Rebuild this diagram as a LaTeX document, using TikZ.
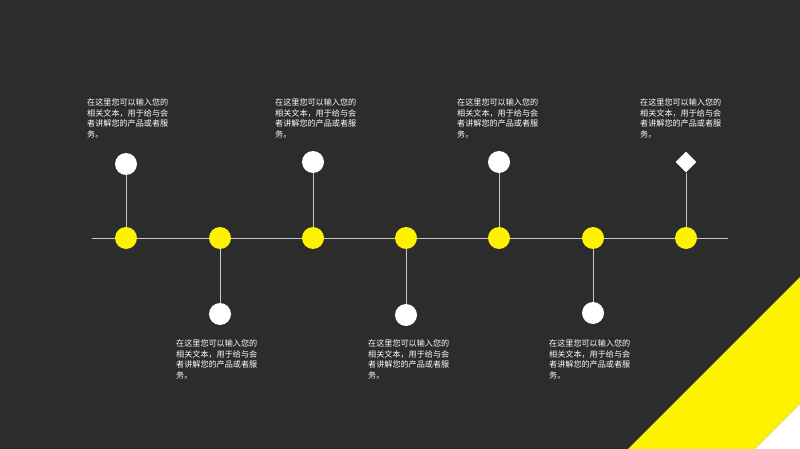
\documentclass[tikz,border=0pt]{standalone}
\usepackage{fontspec}
\newfontfamily\cjk{Noto Sans CJK SC}
\usetikzlibrary{shapes.geometric}
\definecolor{bgdark}{RGB}{44,44,44}
\definecolor{ylw}{RGB}{255,242,0}
\definecolor{linegray}{RGB}{200,200,200}
\tikzset{
  ydot/.style={circle,fill=ylw,inner sep=0pt,minimum size=22pt},
  wdot/.style={circle,fill=white,inner sep=0pt,minimum size=22pt},
  wdia/.style={diamond,fill=white,inner sep=0pt,minimum size=21pt},
  conn/.style={draw=linegray,line width=0.9pt},
  desc/.style={anchor=north west,inner sep=0pt,align=left,text=white,font=\cjk\fontsize{8.1}{10.6}\selectfont},
}
\begin{document}
\begin{tikzpicture}[x=1pt,y=-1pt]
\fill[bgdark] (0,0) rectangle (800,449);
\useasboundingbox (0,0) rectangle (800,449);
% corner band
\fill[ylw] (628,449) -- (800,277) -- (800,404) -- (755,449) -- cycle;
\fill[white] (755,449) -- (800,404) -- (800,449) -- cycle;
% timeline
\coordinate (L) at (92,238);
\coordinate (R) at (728,238);
\draw[conn] (L) -- (R);
% white markers
\node[wdot] (w1) at (126,164) {};
\node[wdot] (w2) at (220,314) {};
\node[wdot] (w3) at (313,162) {};
\node[wdot] (w4) at (406,315) {};
\node[wdot] (w5) at (499,162) {};
\node[wdot] (w6) at (593,313) {};
\node[wdia] (w7) at (686,162) {};
% yellow dots
\foreach \i/\x in {1/126,2/220,3/313,4/406,5/499,6/593,7/686}{
  \node[ydot] (y\i) at (\x,238) {};
}
\foreach \i in {1,...,7}{
  \draw[conn] (w\i) -- (y\i);
}
% texts
\newcommand{\desctext}{在这里您可以输入您的\\相关文本，用于给与会\\者讲解您的产品或者服\\务。}
\node[desc] (t1) at (87,98.5) {\desctext};
\node[desc] (t3) at (275,98.5) {\desctext};
\node[desc] (t5) at (457,98.5) {\desctext};
\node[desc] (t7) at (640,98.5) {\desctext};
\node[desc] (t2) at (176,339.5) {\desctext};
\node[desc] (t4) at (368,339.5) {\desctext};
\node[desc] (t6) at (549,339.5) {\desctext};
\end{tikzpicture}
\end{document}
